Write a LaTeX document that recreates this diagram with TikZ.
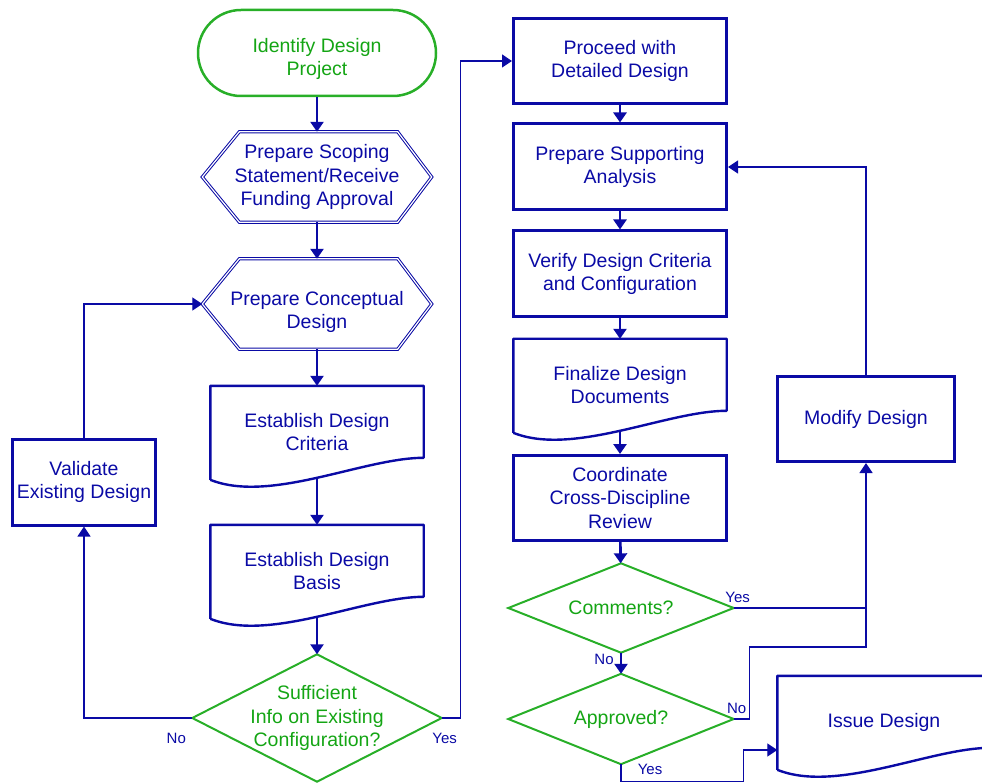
\documentclass[tikz,border=0pt]{standalone}
\usepackage{fontspec}
\setmainfont{Liberation Sans}
\usetikzlibrary{arrows.meta,calc,positioning}
\definecolor{flowblue}{RGB}{10,10,165}
\definecolor{flowgreen}{RGB}{40,175,40}
\definecolor{textgreen}{RGB}{20,165,20}

\begin{document}
\begin{tikzpicture}[x=1pt,y=-1pt,>={Triangle[width=13pt,length=10pt]},
  txt/.style={align=center,font=\fontsize{19.5}{23.5}\selectfont,inner sep=0pt},
  bluebox/.style={txt,draw=flowblue,text=flowblue,line width=3pt,minimum width=213pt,minimum height=85pt},
  shapetxt/.style={txt,text=flowblue},
  boxline/.style={draw=flowblue,line width=2.4pt,line join=round},
  hexline/.style={draw=flowblue,double=white,double distance=1.2pt,line width=1pt},
  decline/.style={draw=flowgreen,line width=2pt},
  link/.style={flowblue,line width=1.3pt},
  flow/.style={flowblue,line width=2.6pt,->},
  lbl/.style={font=\fontsize{15}{18}\selectfont,text=flowblue,inner sep=0pt}]
\useasboundingbox (0,0) rectangle (982,783);

% left column
\node[txt,draw=flowgreen,line width=2.5pt,rounded corners=43pt,minimum width=238pt,minimum height=86pt] (ident) at (317,53) {};
\node[txt,text=textgreen] (identtxt) at ($(ident)+(0,6)$) {Identify Design\\Project};
\node[shapetxt,minimum width=229pt,minimum height=90pt] (hexA) at (317,177) {Prepare Scoping\\Statement/Receive\\Funding Approval};
\node[shapetxt,minimum width=229pt,minimum height=90pt] (hexB) at (317,304) {};
\node[shapetxt] (hexBtxt) at ($(hexB)+(0,8)$) {Prepare Conceptual\\Design};
\node[shapetxt,minimum width=213pt,minimum height=92pt] (critA) at (317,432) {Establish Design\\Criteria};
\node[shapetxt,minimum width=213pt,minimum height=92pt] (basisB) at (317,571) {Establish Design\\Basis};
\node[txt,text=textgreen,minimum width=249pt,minimum height=127pt] (suff) at (317,718) {Sufficient\\Info on Existing\\Configuration?};
\node[bluebox,minimum width=143pt,minimum height=86pt] (valid) at (84,482) {Validate\\Existing Design};

% right column
\node[bluebox] (proc) at (620,61) {Proceed with\\Detailed Design};
\node[bluebox,minimum height=86pt] (supp) at (620,167) {Prepare Supporting\\Analysis};
\node[bluebox,minimum height=86pt] (verif) at (620,274) {Verify Design Criteria\\and Configuration};
\node[shapetxt,minimum width=213pt,minimum height=92pt] (fin) at (620,385) {Finalize Design\\Documents};
\node[bluebox] (coord) at (620,498) {Coordinate\\Cross-Discipline\\Review};
\node[txt,text=textgreen,minimum width=225pt,minimum height=89pt] (comm) at (621,608) {Comments?};
\node[txt,text=textgreen,minimum width=225pt,minimum height=90pt] (appr) at (621,719) {Approved?};
\node[bluebox,minimum width=177pt] (modif) at (866,419) {Modify Design};
\node[shapetxt,minimum width=213pt,minimum height=92pt] (issue) at (884,722) {Issue Design};

% outlines
\foreach \n in {hexA,hexB}
  \draw[hexline] (\n.west) -- ($(\n.north west)+(37,0)$) -- ($(\n.north east)+(-34,0)$) -- (\n.east)
    -- ($(\n.south east)+(-34,0)$) -- ($(\n.south west)+(37,0)$) -- cycle;
\foreach \n in {critA,basisB,fin,issue}
  \draw[boxline] ($(\n.north west)+(0,94)$) -- (\n.north west) -- (\n.north east) -- ($(\n.north east)+(0,72)$)
    .. controls ($(\n.north east)+(-60,72)$) and ($(\n.north west)+(60,118)$) .. ($(\n.north west)+(0,94)$);
\foreach \n in {suff,comm,appr}
  \draw[decline] (\n.north) -- (\n.east) -- (\n.south) -- (\n.west) -- cycle;

% main flow
\draw[flow] (ident) -- (hexA);
\draw[flow] (hexA) -- (hexB);
\draw[flow] (hexB) -- (critA);
\draw[flow] (critA.south) -- (basisB);
\draw[flow] (basisB.south) -- (suff);
\draw[flow] (proc) -- (supp);
\draw[flow] (supp) -- (verif);
\draw[flow] (verif) -- (fin);
\draw[flow] (fin.south) -- (coord);
\draw[flow] (coord) -- (comm);
\draw[flow] (comm) -- (appr);

% loops
\draw[link,->] (suff.west) -| (valid.south);
\draw[link,->] (valid.north) |- (hexB.west);
\draw[link,->] (suff.east) -- ++(19,0) |- (proc.west);
\draw[link,->] (comm.east) -| (modif.south);
\coordinate (mjoin) at (modif.south |- 0,647);
\draw[link] (appr.east) -- ++(16,0) |- (mjoin) -- (modif.south |- comm.east);
\draw[link,->] (modif.north) |- (supp.east);
\draw[link,->] (appr.south) -- ++(0,17) -| ($(issue.west)+(-34,28)$) -- ($(issue.west)+(0,28)$);

% labels
\node[lbl] (noA) at ($(suff.west)+(-16,20)$) {No};
\node[lbl] (yesA) at ($(suff.east)+(3,20)$) {Yes};
\node[lbl] (yesB) at ($(comm.east)+(4,-11)$) {Yes};
\node[lbl] (noB) at ($(comm.south)+(-17,7)$) {No};
\node[lbl] (noC) at ($(appr.east)+(3,-11)$) {No};
\node[lbl] (yesC) at ($(appr.south)+(29,5)$) {Yes};
\end{tikzpicture}
\end{document}
